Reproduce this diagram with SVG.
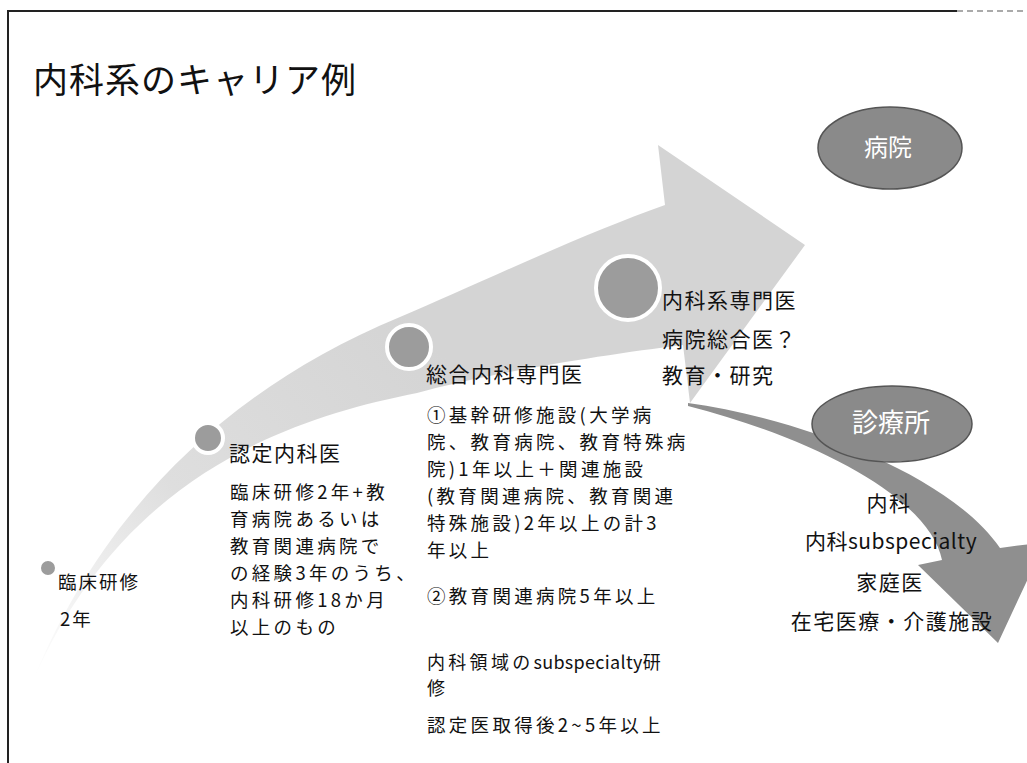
<svg xmlns="http://www.w3.org/2000/svg" width="1027" height="763" viewBox="0 0 1027 763">
<style>
.t{font-family:"Noto Sans CJK JP","Noto Sans",sans-serif;fill:#111;font-size:21px;letter-spacing:1.5px}
.p{font-family:"Noto Sans CJK JP","Noto Sans",sans-serif;fill:#111;font-size:18.5px;letter-spacing:3.3px}
.l{letter-spacing:0.3px}
.w{font-family:"Noto Sans CJK JP","Noto Sans",sans-serif;fill:#fff}
.dot{fill:#9c9c9c;stroke:#fff;stroke-width:4}
.ell{fill:#8a8a8a;stroke:#555;stroke-width:1.5}
</style>
<defs>
<linearGradient id="lg" gradientUnits="userSpaceOnUse" x1="32" y1="683" x2="420" y2="330">
<stop offset="0" stop-color="#ffffff"/>
<stop offset="0.45" stop-color="#dedede"/>
<stop offset="1" stop-color="#d4d4d4"/>
</linearGradient>
</defs>
<rect width="1027" height="763" fill="#fff"/>
<g id="frame" fill="none">
<line x1="8" y1="11" x2="957" y2="11" stroke="#222" stroke-width="2"/>
<line x1="957" y1="11" x2="1027" y2="11" stroke="#aaa" stroke-width="2" stroke-dasharray="6 4"/>
<line x1="8" y1="10" x2="8" y2="763" stroke="#222" stroke-width="2"/>
</g>
<text id="title" class="t" x="33" y="93" style="font-size:35px;letter-spacing:1px">内科系のキャリア例</text>
<g id="connectors">
<path id="main-arrow" fill="url(#lg)" d="M32,683 C90,540 200,400 400,317 C480,283 580,235 665,205 L658,145 L805,245 L690,403 L683,345 C600,355 480,375 417,393 C280,420 120,480 32,683 Z"/>
<path id="clinic-arrow" fill="#8f8f8f" d="M688,403 C800,418 950,475 1000,548 L1045,542 L998,643 L918,565 L942,560 C930,500 820,440 688,406 Z"/>
</g>
<g id="node-rinsho">
<circle class="dot" cx="48" cy="568" r="9"/>
<text class="p" x="58" y="589" style="letter-spacing:2px">臨床研修</text>
<text class="p" x="60" y="626" style="letter-spacing:2px">2年</text>
</g>
<g id="node-nintei">
<circle class="dot" cx="208" cy="438" r="15"/>
<text class="t" x="229" y="461">認定内科医</text>
<text class="p" x="230" y="499">臨床研修2年+教</text>
<text class="p" x="230" y="526">育病院あるいは</text>
<text class="p" x="230" y="553">教育関連病院で</text>
<text class="p" x="230" y="580">の経験3年のうち、</text>
<text class="p" x="230" y="607">内科研修18か月</text>
<text class="p" x="230" y="634">以上のもの</text>
</g>
<g id="node-sogo">
<circle class="dot" cx="409" cy="347" r="22"/>
<text class="t" x="426" y="382">総合内科専門医</text>
<text class="p" x="427" y="422">①基幹研修施設(大学病</text>
<text class="p" x="427" y="449">院、教育病院、教育特殊病</text>
<text class="p" x="427" y="476">院)1年以上＋関連施設</text>
<text class="p" x="427" y="503">(教育関連病院、教育関連</text>
<text class="p" x="427" y="530">特殊施設)2年以上の計3</text>
<text class="p" x="427" y="557">年以上</text>
<text class="p" x="427" y="603">②教育関連病院5年以上</text>
<text class="p" x="427" y="669" style="font-size:18px">内科領域の<tspan class="l">subspecialty</tspan>研</text>
<text class="p" x="427" y="695" style="font-size:18px">修</text>
<text class="p" x="427" y="732">認定医取得後2~5年以上</text>
</g>
<g id="node-senmon">
<circle class="dot" cx="628" cy="288" r="32"/>
<text class="t" x="662" y="308">内科系専門医</text>
<text class="t" x="662" y="347">病院総合医？</text>
<text class="t" x="662" y="383">教育・研究</text>
</g>
<g id="node-byoin">
<ellipse class="ell" cx="890" cy="148" rx="72" ry="41"/>
<text class="w" x="888" y="156" text-anchor="middle" style="font-size:24px">病院</text>
</g>
<g id="node-shinryojo">
<ellipse class="ell" cx="892" cy="424" rx="80" ry="38"/>
<text class="w" x="891" y="432" text-anchor="middle" style="font-size:26px">診療所</text>
</g>
<g id="node-clinic-list">
<text class="t" x="889" y="511" text-anchor="middle">内科</text>
<text class="t" x="891" y="549" text-anchor="middle" style="letter-spacing:0.5px">内科subspecialty</text>
<text class="t" x="890" y="590" text-anchor="middle">家庭医</text>
<text class="t" x="892" y="629" text-anchor="middle">在宅医療・介護施設</text>
</g>
</svg>
